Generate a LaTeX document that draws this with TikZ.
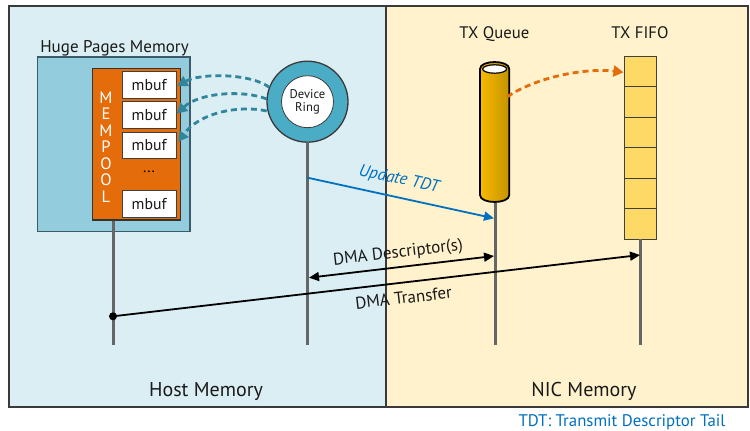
\documentclass[tikz,border=0pt]{standalone}
\usepackage{fontspec}
\setmainfont{PT Sans}
\usetikzlibrary{arrows.meta}
\definecolor{hostbg}{HTML}{DAEEF3}
\definecolor{nicbg}{HTML}{FFF2CC}
\definecolor{framec}{HTML}{3A3A3A}
\definecolor{hugefill}{HTML}{93CDDD}
\definecolor{hugeedge}{HTML}{3D5A6B}
\definecolor{mempoolc}{HTML}{E46C0A}
\definecolor{ringfill}{HTML}{4BACC6}
\definecolor{tealarrow}{HTML}{31859C}
\definecolor{lifec}{HTML}{666666}
\definecolor{tdtblue}{HTML}{0070C0}
\definecolor{fifofill}{HTML}{FFD966}
\definecolor{cylA}{HTML}{F7B900}
\definecolor{cylB}{HTML}{C49300}
\definecolor{dashorange}{HTML}{E46C0A}
\definecolor{txt}{HTML}{1A1A1A}
\newcommand\fsz[1]{\fontsize{#1}{#1}\selectfont}
\tikzset{
  lbl/.style={text=txt, inner sep=0pt, anchor=base},
  hugebox/.style={draw=hugeedge, fill=hugefill, line width=1.2pt, minimum width=152.3pt, minimum height=174.7pt, inner sep=0pt},
  poolbox/.style={draw=black!80, fill=mempoolc, line width=1.2pt, minimum width=88.4pt, minimum height=151.3pt, inner sep=0pt},
  mbufbox/.style={draw=black!75, fill=white, line width=1pt, minimum width=53.7pt, minimum height=26.6pt, inner sep=0pt, text=txt, font=\fsz{15.8}},
  lifeline/.style={draw=lifec, line width=3pt},
  fifocell/.style={draw=black!75, fill=fifofill, line width=1pt, minimum width=32.4pt, minimum height=30.55pt, inner sep=0pt},
  msg/.style={line width=1.8pt, -{Triangle[length=10pt,width=9pt]}},
  tealdash/.style={draw=tealarrow, line width=2.8pt, dash pattern=on 6pt off 4pt, -{Triangle[length=10pt,width=11pt]}},
  orangedash/.style={draw=dashorange, line width=2.8pt, dash pattern=on 6pt off 4pt, -{Triangle[length=10pt,width=11pt]}},
}
\begin{document}
\begin{tikzpicture}[x=1pt,y=-1pt]
\useasboundingbox (0,0) rectangle (750,431);
\fill[white] (0,0) rectangle (750,431);
% panels
\fill[hostbg] (9,6) rectangle (386,407);
\fill[nicbg] (386,6) rectangle (748,407);
\draw[framec, line width=1.3pt] (9,6) rectangle (748,407);
\draw[framec, line width=1.3pt] (386,6) -- (386,407);
% titles
\node[lbl, font=\fsz{20}] (hosttitle) at (206,396) {Host Memory};
\node[lbl, font=\fsz{20}] (nictitle) at (584,396) {NIC Memory};
\node[lbl, font=\fsz{17}] (hugetitle) at (114.5,52.7) {Huge Pages Memory};
\node[lbl, font=\fsz{16.7}] (txqtitle) at (494.3,38) {TX Queue};
\node[lbl, font=\fsz{16.7}] (fifotitle) at (640,38) {TX FIFO};
\node[lbl, font=\fsz{16.8}, text=tdtblue] (legend) at (622,426.7) {TDT: Transmit Descriptor Tail};
% huge pages / mempool
\node[hugebox] (huge) at (113.85,144.35) {};
\node[poolbox] (pool) at (136.5,144.35) {};
\node[text=white, font=\fsz{16.5}, align=center, inner sep=0pt, text depth=0pt] (pooltxt) at (106,147)
  {\baselineskip=17.2pt M\\E\\M\\P\\O\\O\\L};
\node[mbufbox] (mb1) at (149.15,85) {mbuf};
\node[mbufbox] (mb2) at (149.15,115) {mbuf};
\node[mbufbox] (mb3) at (149.15,145.35) {mbuf};
\node[text=black, font=\fsz{15.5}, inner sep=0pt] (dots) at (149,172) {...};
\node[mbufbox] (mb4) at (149.15,204) {mbuf};
% device ring
\node[circle, draw=framec, fill=ringfill, line width=1.3pt, minimum size=81pt, inner sep=0pt] (ring) at (307.5,101.7) {};
\node[circle, draw=framec, fill=white, line width=0.8pt, minimum size=52pt, inner sep=0pt, align=center, font=\fsz{12.6}, text=txt] (ringin) at (307.5,101.7)
  {\baselineskip=15pt Device\\Ring};
% TX queue cylinder
\path[draw=black, line width=1.8pt, left color=cylA, right color=cylB]
  (480,69) -- (480,195) .. controls (480,204.3) and (509.3,204.3) .. (509.3,195) -- (509.3,69)
  .. controls (509.3,59.7) and (480,59.7) .. (480,69) -- cycle;
\draw[black, line width=1.2pt, fill=white] (494.65,69) ellipse [x radius=12, y radius=4.2];
\coordinate (cylmid) at (507.3,96.7);
% TX FIFO
\foreach \i/\yy in {1/71.3,2/101.8,3/132.4,4/163,5/193.5,6/224.1}
  \node[fifocell] (fifo\i) at (640.5,\yy) {};
% lifelines
\coordinate (l1t) at (113,220.5); \coordinate (l1b) at (113,345);
\coordinate (l2t) at (307.5,142.2); \coordinate (l2b) at (307.5,345);
\coordinate (l3t) at (495.3,203); \coordinate (l3b) at (495.3,345);
\coordinate (l4t) at (640.5,239.4); \coordinate (l4b) at (640.5,345);
\draw[lifeline] (l1t) -- (l1b);
\draw[lifeline] (l2t) -- (l2b);
\draw[lifeline] (l3t) -- (l3b);
\draw[lifeline] (l4t) -- (l4b);
% teal dashed arrows
\coordinate (r1) at (269.3,87.3);
\coordinate (r2) at (266.7,99);
\coordinate (r3) at (266.7,111);
\coordinate (m1) at (177.5,86);
\coordinate (m2) at (177,113.5);
\coordinate (m3) at (178.3,141.7);
\draw[tealdash] (r1) .. controls (250,73) and (200,73) .. (m1);
\draw[tealdash] (r2) .. controls (245,90) and (200,92) .. (m2);
\draw[tealdash] (r3) .. controls (240,105) and (200,112) .. (m3);
% orange dashed
\coordinate (f1) at (623.5,72.3);
\draw[orangedash] (cylmid) .. controls (540,75) and (590,68) .. (f1);
% update TDT
\coordinate (u1) at (307.5,177.7);
\coordinate (u2) at (494,218.3);
\draw[msg, draw=tdtblue, fill=tdtblue, line width=1.8pt] (u1) -- node[pos=0.47, above=9pt, sloped, font=\fsz{17}\itshape, text=tdtblue, inner sep=0pt] (updlbl) {Update TDT} (u2);
% DMA descriptors
\coordinate (d1) at (309,277.7);
\coordinate (d2) at (494,256);
\draw[line width=1.8pt, {Triangle[length=10pt,width=9pt]}-{Triangle[length=10pt,width=9pt]}] (d1) -- node[pos=0.49, above=5pt, sloped, font=\fsz{17}, text=txt, inner sep=0pt] (desclbl) {DMA Descriptor(s)} (d2);
% DMA transfer
\coordinate (t1) at (113,316.3);
\coordinate (t2) at (640,255);
\fill[black] (t1) circle (4pt);
\draw[msg] (t1) -- node[pos=0.548, below=8pt, sloped, font=\fsz{17}, text=txt, inner sep=0pt] (translbl) {DMA Transfer} (t2);
\end{tikzpicture}
\end{document}
